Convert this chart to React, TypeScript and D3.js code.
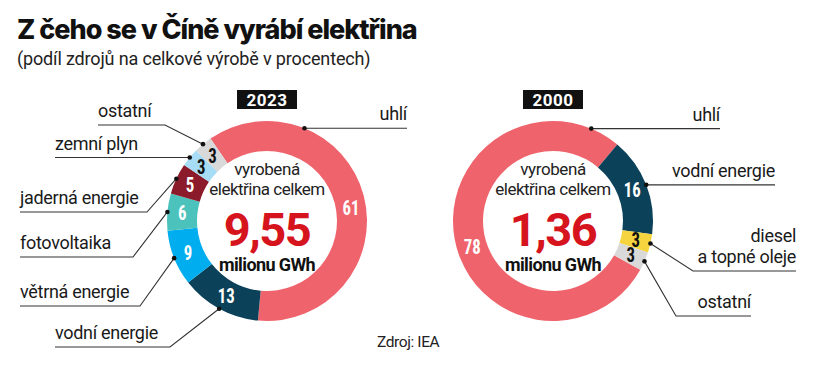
import React from 'react';
import * as d3 from 'd3';

// data
const sources2023 = ['uhlí', 'vodní energie', 'větrná energie', 'fotovoltaika', 'jaderná energie', 'zemní plyn', 'ostatní'];
const shares2023 = [61, 13, 9, 6, 5, 3, 3];
const sources2000 = ['uhlí', 'vodní energie', 'diesel a topné oleje', 'ostatní'];
const shares2000 = [78, 16, 3, 3];
const totals = ['9,55', '1,36'];
const years = ['2023', '2000'];

const colors: Record<string, string> = {
  'uhlí': '#ef646c',
  'vodní energie': '#0b4159',
  'větrná energie': '#00adee',
  'fotovoltaika': '#4cc2bd',
  'jaderná energie': '#8b1a2a',
  'zemní plyn': '#a6dcf6',
  'ostatní': '#d9d9d9',
  'diesel a topné oleje': '#f5d43f',
};
const darkText = new Set(['zemní plyn', 'ostatní', 'diesel a topné oleje']);

const deg = Math.PI / 180;
const R_OUT = 100;
const R_IN = 70;

// label layout: lineX = far end of the leader, lineY = horizontal leader y, elbowX = where it bends
type LabelCfg = { side: 'left' | 'right'; lineX: number; lineY?: number; elbowX?: number; dotAngle?: number; numAngle?: number; lines: string[] };

const layout2023: Record<string, LabelCfg> = {
  'uhlí': { side: 'right', lineX: 407, dotAngle: 22, numAngle: 81, lines: ['uhlí'] },
  'vodní energie': { side: 'left', lineX: 55, lineY: 347, elbowX: 170, lines: ['vodní energie'] },
  'větrná energie': { side: 'left', lineX: 20, lineY: 306, elbowX: 140, lines: ['větrná energie'] },
  'fotovoltaika': { side: 'left', lineX: 20, lineY: 257, elbowX: 133, lines: ['fotovoltaika'] },
  'jaderná energie': { side: 'left', lineX: 20, lineY: 212, elbowX: 147, lines: ['jaderná energie'] },
  'zemní plyn': { side: 'left', lineX: 55, lines: ['zemní plyn'] },
  'ostatní': { side: 'left', lineX: 98, lineY: 125, elbowX: 165, lines: ['ostatní'] },
};
const layout2000: Record<string, LabelCfg> = {
  'uhlí': { side: 'right', lineX: 720, dotAngle: 22.5, numAngle: 252, lines: ['uhlí'] },
  'vodní energie': { side: 'right', lineX: 775, lines: ['vodní energie'] },
  'diesel a topné oleje': { side: 'right', lineX: 796, lineY: 271, elbowX: 693, lines: ['diesel', 'a topné oleje'] },
  'ostatní': { side: 'right', lineX: 751, lineY: 316, elbowX: 676, lines: ['ostatní'] },
};

const sansFont = "Roboto, 'Noto Sans', sans-serif";
const narrowFont = "'Roboto Condensed', 'Liberation Sans Narrow', 'DejaVu Sans Condensed', sans-serif";

interface DonutProps {
  cx: number;
  cy: number;
  sources: string[];
  shares: number[];
  startDeg: number;
  layout: Record<string, LabelCfg>;
  year: string;
  total: string;
}

const Donut: React.FC<DonutProps> = ({ cx, cy, sources, shares, startDeg, layout, year, total }) => {
  const data = sources.map((s, i) => ({ source: s, value: shares[i] }));
  const pie = d3.pie<{ source: string; value: number }>()
    .sort(null)
    .value(d => d.value)
    .startAngle(startDeg * deg)
    .endAngle(startDeg * deg + 2 * Math.PI);
  const arcs = pie(data);
  const arc = d3.arc<d3.PieArcDatum<{ source: string; value: number }>>()
    .innerRadius(R_IN)
    .outerRadius(R_OUT);
  const polar = (a: number, r: number) => [r * Math.sin(a), -r * Math.cos(a)];

  return (
    <g>
      <g transform={`translate(${cx},${cy})`}>
        {arcs.map(a => (
          <path key={a.data.source} d={arc(a) || ''} fill={colors[a.data.source]} />
        ))}
        {arcs.map(a => {
          const cfg = layout[a.data.source];
          const ang = cfg && cfg.numAngle !== undefined ? cfg.numAngle * deg : (a.startAngle + a.endAngle) / 2;
          const [x, y] = polar(ang, (R_IN + R_OUT) / 2);
          return (
            <text key={a.data.source} transform={`translate(${x},${y + 7}) scale(0.8,1)`}
              textAnchor="middle" fontFamily={narrowFont} fontWeight={700} fontSize={21}
              fill={darkText.has(a.data.source) ? '#111' : '#fff'}>{a.data.value}</text>
          );
        })}
        <text y={-46} textAnchor="middle" fontFamily={sansFont} fontSize={17} letterSpacing={-0.4} fill="#222">vyrobená</text>
        <text y={-26} textAnchor="middle" fontFamily={sansFont} fontSize={17} letterSpacing={-0.5} fill="#222">elektřina celkem</text>
        <text y={25} textAnchor="middle" fontFamily={sansFont} fontWeight={700} fontSize={47} letterSpacing={-1.5} fill="#d6141d">{total}</text>
        <text y={50} textAnchor="middle" fontFamily={sansFont} fontWeight={700} fontSize={18} letterSpacing={-0.6} fill="#111">milionu GWh</text>
      </g>
      <rect x={cx - 30} y={90} width={60} height={19} fill="#111" />
      <text x={cx} y={106} textAnchor="middle" fontFamily={sansFont} fontWeight={700} fontSize={17} letterSpacing={0.5} fill="#fff">{year}</text>
      {arcs.map(a => {
        const cfg = layout[a.data.source];
        if (!cfg) return null;
        const ang = cfg.dotAngle !== undefined ? cfg.dotAngle * deg : (a.startAngle + a.endAngle) / 2;
        const [dx, dy] = polar(ang, R_OUT);
        const px = cx + dx;
        const py = cy + dy;
        const ly = cfg.lineY !== undefined ? cfg.lineY : py;
        const pts = cfg.elbowX !== undefined
          ? [[px, py], [cfg.elbowX, ly], [cfg.lineX, ly]]
          : [[px, py], [cfg.lineX, ly]];
        const line = d3.line()(pts as [number, number][]) || '';
        const anchor = cfg.side === 'left' ? 'start' : 'end';
        const n = cfg.lines.length;
        return (
          <g key={a.data.source}>
            <path d={line} fill="none" stroke="#333" strokeWidth={1.1} />
            <circle cx={px} cy={py} r={2.3} fill="#111" />
            {cfg.lines.map((t, i) => (
              <text key={t} x={cfg.lineX} y={ly - 8 - (n - 1 - i) * 21} textAnchor={anchor}
                fontFamily={sansFont} fontSize={18} letterSpacing={-0.3} fill="#1a1a1a">{t}</text>
            ))}
          </g>
        );
      })}
    </g>
  );
};

const App: React.FC = () => {
  return (
    <svg width={820} height={367} style={{ position: 'absolute', left: 0, top: 0, background: '#fff' }}>
      <text x={17} y={39} fontFamily="Inter, Roboto, sans-serif" fontWeight={800} fontSize={27} letterSpacing={-1} fill="#111">Z čeho se v Číně vyrábí elektřina</text>
      <text x={17} y={65} fontFamily={sansFont} fontSize={18} letterSpacing={-0.15} fill="#222">(podíl zdrojů na celkové výrobě v procentech)</text>
      <Donut cx={267} cy={221} sources={sources2023} shares={shares2023} startDeg={-34.4}
        layout={layout2023} year={years[0]} total={totals[0]} />
      <Donut cx={553} cy={221} sources={sources2000} shares={shares2000} startDeg={-240.8}
        layout={layout2000} year={years[1]} total={totals[1]} />
      <text x={377} y={347} fontFamily={sansFont} fontSize={15.5} letterSpacing={-0.4} fill="#222">Zdroj: IEA</text>
    </svg>
  );
};

export default App;
